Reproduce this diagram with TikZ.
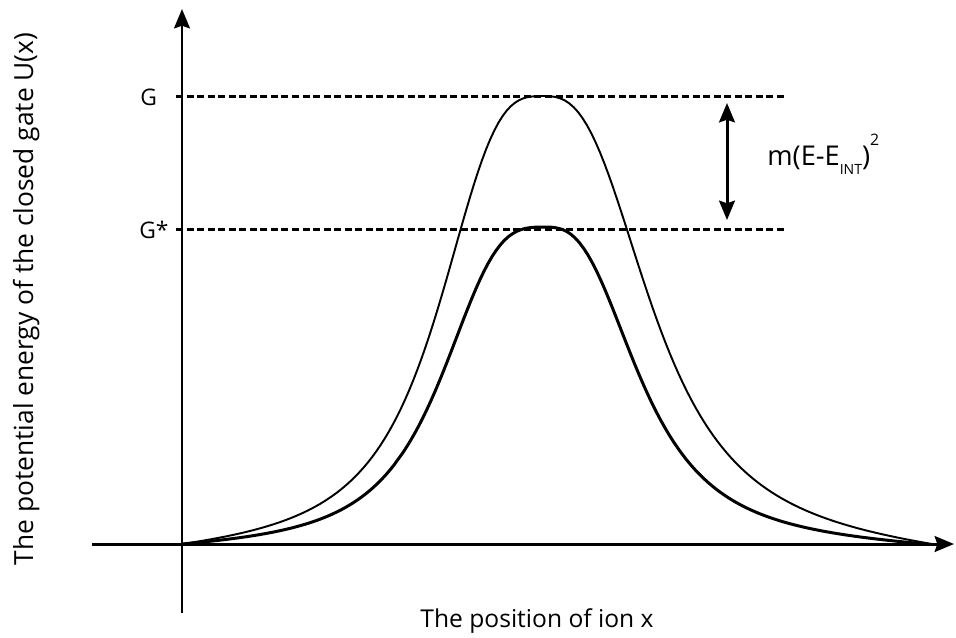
\documentclass[tikz,border=0pt]{standalone}
\usepackage{fontspec}
\setmainfont{Open Sans}
\usepackage{tikz}
\usetikzlibrary{arrows.meta}
\usetikzlibrary{positioning}

% barrier shape: height \h at distance \d from the top, width \a, steepness \q, foot at \e
\tikzset{declare function={
    bump(\d,\h,\a,\q,\e) = \h*(1/(1+((\d+0.001)/\a)^\q) - (\d/\e)^2/(1+(\e/\a)^\q));
}}

\begin{document}
\begin{tikzpicture}[x=0.02cm, y=-0.02cm,
    >={Stealth[length=11pt, width=9pt, inset=1.5pt]},
    axis/.style={line width=1.7pt},
    level/.style={line width=1.7pt, dash pattern=on 4pt off 2pt},
    barrier/.style={line width=1.1pt, line join=round},
    lowbarrier/.style={line width=1.7pt, line join=round},
    levellabel/.style={font=\fontsize{13}{15}\selectfont, anchor=west, inner sep=0pt}]
    \useasboundingbox (0,0) rectangle (956,637);

    % 1. Points for the axes and the levels
    \coordinate (xstart) at (92,544);
    \coordinate (xend) at (954,544);
    \coordinate (ystart) at (182,613);
    \coordinate (yend) at (182,9);
    \coordinate (Gleft) at (176,96);
    \coordinate (Gright) at (784,96);
    \coordinate (Gsleft) at (176,229);
    \coordinate (Gsright) at (784,229);
    \coordinate (gaptop) at (727,103);
    \coordinate (gapbot) at (727,220);

    % 2. Draw the axes
    \draw[->, axis] (xstart) -- (xend);
    \draw[->, axis] (ystart) -- (yend);

    % 3. Draw the two levels G and G*
    \draw[level] (Gleft) -- (Gright);
    \draw[level] (Gsleft) -- (Gsright);
    \node[levellabel] (G) at (140,97) {G};
    \node[levellabel] (Gs) at (139,230) {G*};

    % 4. Draw the barrier of the closed gate (thin) and the lowered one (thick)
    \draw[barrier] plot[domain=182:543, samples=90] (\x, {544-bump(543-\x,448,109,3.09,361)})
        -- plot[domain=543:932, samples=90] (\x, {544-bump(\x-543,448,114.4,2.79,389)});
    \draw[lowbarrier] plot[domain=182:545, samples=90] (\x, {544-bump(545-\x,317,107.7,3.21,363)})
        -- plot[domain=545:926, samples=90] (\x, {544-bump(\x-545,317,99,2.8,381)});

    % 5. Draw the gap between the levels
    \draw[<->, axis] (gaptop) -- (gapbot);
    \node[anchor=base west, inner sep=0pt, font=\fontsize{15.5}{18}\selectfont] (gap) at (767,165)
        {m(E-E\raisebox{-5.5pt}{\fontsize{8}{9}\selectfont INT})\raisebox{11pt}{\fontsize{9}{10}\selectfont 2}};

    % 6. Labels of the axes
    \node[anchor=base, font=\fontsize{14}{16}\selectfont] (xlabel) at (537,627) {The position of ion x};
    \node[anchor=base, rotate=90, font=\fontsize{15}{17}\selectfont] (ylabel) at (33,299) {The potential energy of the closed gate U(x)};

\end{tikzpicture}
\end{document}
